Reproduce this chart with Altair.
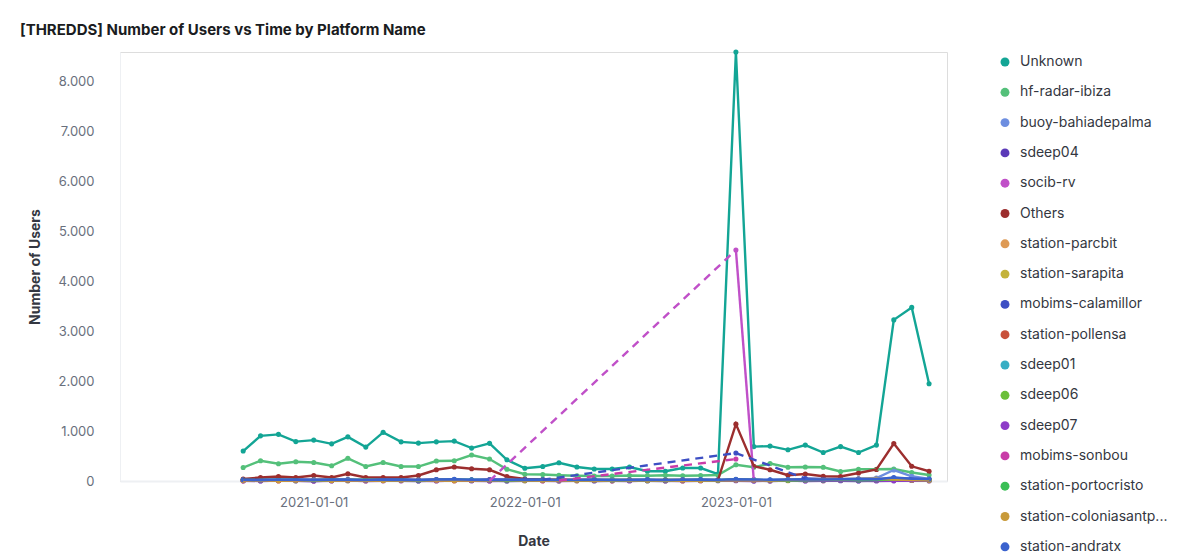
import altair as alt
import pandas as pd

# ---------------- data ----------------
months = pd.date_range("2020-09-01", "2023-12-01", freq="MS").strftime("%Y-%m-%d").tolist()

series_names = [
    "Unknown", "hf-radar-ibiza", "buoy-bahiadepalma", "sdeep04", "socib-rv", "Others",
    "station-parcbit", "station-sarapita", "mobims-calamillor", "station-pollensa",
    "sdeep01", "sdeep06", "sdeep07", "mobims-sonbou", "station-portocristo",
    "station-coloniasantpere", "station-andratx",
]
series_colors = [
    "#13A595", "#54C07A", "#6D8EE0", "#5B3AB8", "#C050C8", "#9C2E2E",
    "#DE9A55", "#C4B33A", "#3D4FC4", "#C8503A",
    "#38AEC4", "#6BBF3A", "#8E3BC8", "#C93CA8", "#3ABF55",
    "#C89A3A", "#3A62CE",
]

N = None
unknown = [600, 905, 935, 790, 820, 745, 885, 680, 975, 785, 760, 785, 800, 660, 755, 425,
           255, 290, 365, 280, 240, 240, 280, 195, 195, 260, 260, 140, 8600, 690, 700, 625,
           720, 570, 690, 570, 720, 3230, 3480, 1950]
hf_radar_ibiza = [270, 405, 345, 385, 370, 305, 455, 290, 370, 290, 290, 400, 405, 520, 440, 235,
                  135, 130, 115, 105, 100, 100, 110, 105, 115, 105, 110, 120, 325, 275, 350, 275,
                  280, 275, 190, 235, 235, 240, 170, 120]
buoy_bahiadepalma = [20, 30, 25, 20, 30, 25, 35, 20, 25, 30, 20, 25, 30, 20, 25, 30,
                     20, 25, 20, 15, 20, 25, 20, 15, 20, 25, 20, 15, 30, 25, 20, 25,
                     30, 35, 40, 45, 60, 220, 95, 40]
sdeep04 = [5, 10, 15, 5, 0, 10, 5, 15, 10, 5, 0, 10, 15, 5, 10, 0,
           5, 10, 5, 15, 0, 5, 10, 5, 0, 15, 10, 5, 10, 5, 0, 10,
           5, 15, 5, 0, 10, 5, 15, 5]
socib_rv = [10, 5, 15, 10, 5, 10, 20, 5, 10, 15, 10, 30, 20, 10, 5, N,
            N, N, N, N, N, N, N, N, N, N, N, N, 4630, 5, N, N,
            N, N, N, N, N, N, N, N]
others = [40, 70, 90, 70, 110, 70, 145, 70, 70, 70, 110, 225, 280, 245, 225, 90,
          40, 30, 25, 25, 20, 20, 20, 20, 20, 20, 20, 20, 1140, 295, 225, 115,
          140, 95, 90, 160, 230, 750, 295, 195]
station_parcbit = [10, 15, 20, 10, 5, 15, 10, 20, 15, 10, 5, 10, 20, 15, 10, 5,
                   10, 15, 10, 5, 10, 5, 10, 15, 10, 5, 10, 10, 20, 15, 10, 5,
                   10, 15, 10, 20, 15, 10, 10, 5]
station_sarapita = [15, 10, 5, 20, 15, 10, 5, 10, 15, 20, 10, 5, 15, 10, 20, 10,
                    5, 10, 15, 5, 10, 15, 20, 10, 5, 10, 15, 10, 25, 20, 15, 10,
                    20, 25, 30, 20, 35, 25, 20, 15]
mobims_calamillor = [20, 25, 15, 30, 20, 25, 20, 15, 25, 30, 20, 25, 15, 20, 30, 25,
                     20, 25, N, N, N, N, N, N, N, N, N, N, 560, N, N, N,
                     50, 40, 35, 40, 30, 60, 45, 35]
station_pollensa = [5, 10, 5, 15, 10, 5, 20, 10, 5, 10, 15, 10, 5, 10, 5, 15,
                    10, 5, 10, 15, 10, 5, 10, 5, 15, 10, 5, 10, 15, 10, 5, 10,
                    15, 5, 10, 15, 10, 20, 15, 10]
sdeep01 = [10, 5, 20, 10, 15, 5, 10, 20, 15, 10, 5, 15, 10, 20, 15, 5,
           10, 15, 5, 10, 15, 20, 10, 5, 15, 10, 20, 15, 10, 5, 15, 10,
           25, 15, 10, 20, 35, 30, 20, 15]
sdeep06 = [15, 20, 10, 5, 15, 25, 10, 15, 20, 10, 15, 20, 25, 15, 10, 20,
           15, 10, 20, 15, 10, 20, 15, 10, 20, 15, 10, 15, 25, 20, 15, 20,
           15, 10, 20, 15, 20, 25, 30, 20]
sdeep07 = [5, 0, 10, 5, 0, 5, 10, 0, 5, 10, 5, 0, 10, 5, 0, 5,
           10, 5, 0, 5, 10, 5, 0, 10, 5, 0, 5, 10, 5, 0, 5, 10,
           0, 5, 10, 5, 0, 5, 10, 5]
mobims_sonbou = [5, 10, 5, 15, 10, 5, 10, 20, 10, 5, 10, 15, 5, 10, 20, 15,
                 10, 5, 10, N, N, N, N, N, N, N, N, N, 440, N, N, N,
                 N, N, N, N, N, N, N, N]
station_portocristo = [20, 15, 25, 20, 10, 15, 20, 25, 15, 20, 10, 20, 25, 20, 15, 10,
                       15, 20, 10, 15, 20, 10, 15, 20, 10, 15, 20, 15, 25, 20, 15, 10,
                       15, 20, 25, 15, 20, 30, 25, 20]
station_coloniasantpere = [10, 15, 5, 10, 20, 10, 15, 5, 10, 15, 20, 10, 5, 15, 10, 20,
                           15, 10, 5, 10, 15, 10, 20, 15, 10, 5, 10, 15, 20, 15, 10, 20,
                           25, 30, 35, 40, 45, 30, 20, 15]
station_andratx = [25, 20, 30, 25, 20, 30, 25, 20, 30, 25, 20, 30, 35, 25, 20, 25,
                   30, 25, 20, 25, 30, 20, 25, 30, 20, 25, 30, 25, 35, 30, 25, 30,
                   35, 30, 35, 40, 35, 70, 45, 40]

series_values = [
    unknown, hf_radar_ibiza, buoy_bahiadepalma, sdeep04, socib_rv, others,
    station_parcbit, station_sarapita, mobims_calamillor, station_pollensa,
    sdeep01, sdeep06, sdeep07, mobims_sonbou, station_portocristo,
    station_coloniasantpere, station_andratx,
]

year_ticks = ["2021-01-01", "2022-01-01", "2023-01-01"]
y_ticks = [0, 1000, 2000, 3000, 4000, 5000, 6000, 7000, 8000]

# ---------------- build tables ----------------
solid_rows, dash_rows, point_rows = [], [], []
for name, vals in zip(series_names, series_values):
    run = 0
    prev_idx = None
    in_run = False
    for i, v in enumerate(vals):
        if v is None:
            if in_run:
                run += 1
            in_run = False
            continue
        point_rows.append({"date": months[i], "value": v, "series": name})
        solid_rows.append({"date": months[i], "value": v, "series": name, "seg": f"{name}|{run}"})
        if prev_idx is not None and prev_idx != i - 1:
            gid = f"{name}|gap{i}"
            dash_rows.append({"date": months[prev_idx], "value": vals[prev_idx], "series": name, "seg": gid})
            dash_rows.append({"date": months[i], "value": v, "series": name, "seg": gid})
        prev_idx = i
        in_run = True

solid_df = pd.DataFrame(solid_rows)
dash_df = pd.DataFrame(dash_rows)
point_df = pd.DataFrame(point_rows)

FONT = "Inter"
LABEL_GRAY = "#69707D"
TEXT_DARK = "#343741"

x_enc = alt.X(
    "date:T",
    scale=alt.Scale(type="utc", domain=["2020-02-01", "2024-01-01"]),
    axis=alt.Axis(
        title="Date",
        values=[pd.Timestamp(t).value // 10**6 for t in year_ticks],
        format="%Y-%m-%d",
        grid=False,
        ticks=False,
        domainColor="#EEF0F3",
        domainWidth=2,
        labelColor=LABEL_GRAY,
        labelFontSize=13,
        labelFont=FONT,
        labelPadding=15,
        titleFont=FONT,
        titleFontSize=14,
        titleFontWeight="bold",
        titleColor=TEXT_DARK,
        titlePadding=25,
    ),
)
y_enc = alt.Y(
    "value:Q",
    scale=alt.Scale(domain=[0, 8600], nice=False),
    axis=alt.Axis(
        title="Number of Users",
        values=y_ticks,
        labelExpr="replace(format(datum.value, ','), ',', '.')",
        grid=False,
        ticks=False,
        domainColor="#EEF0F3",
        domainWidth=1,
        labelColor=LABEL_GRAY,
        labelFontSize=13,
        labelFont=FONT,
        labelPadding=26,
        titleFont=FONT,
        titleFontSize=14,
        titleFontWeight="bold",
        titleColor=TEXT_DARK,
        titlePadding=16,
    ),
)
color_enc = alt.Color(
    "series:N",
    scale=alt.Scale(domain=series_names, range=series_colors),
    legend=alt.Legend(
        title=None,
        orient="none",
        legendX=878,
        legendY=3,
        symbolType="circle",
        symbolSize=80,
        symbolStrokeWidth=0,
        labelFont=FONT,
        labelFontSize=14,
        labelColor=TEXT_DARK,
        labelOffset=8,
        rowPadding=16.3,
        labelLimit=300,
        labelExpr="length(datum.label) > 21 ? slice(datum.label, 0, 20) + '...' : datum.label",
    ),
)

solid = alt.Chart(solid_df).mark_line(strokeWidth=2.4).encode(
    x=x_enc, y=y_enc, color=color_enc, detail="seg:N"
)
dashed = alt.Chart(dash_df).mark_line(strokeWidth=2.4, strokeDash=[8, 6]).encode(
    x=x_enc, y=y_enc, color=color_enc, detail="seg:N"
)
points = alt.Chart(point_df).mark_circle(size=26, opacity=1).encode(
    x=x_enc, y=y_enc, color=color_enc
)

chart = alt.layer(points, solid, dashed).properties(
    width=827,
    height=429,
    autosize=alt.AutoSizeParams(type="none"),
    padding={"left": 112, "top": 44, "right": 246, "bottom": 73},
    title=alt.TitleParams(
        text="[THREDDS] Number of Users vs Time by Platform Name",
        anchor="start",
        frame="group",
        dx=-100,
        font=FONT,
        fontSize=15,
        fontWeight="bold",
        color="#1A1C21",
        offset=9,
    ),
).configure_view(stroke=None).configure(background="white")

chart.save("out.html", embed_options={"renderer": "svg", "actions": False})
